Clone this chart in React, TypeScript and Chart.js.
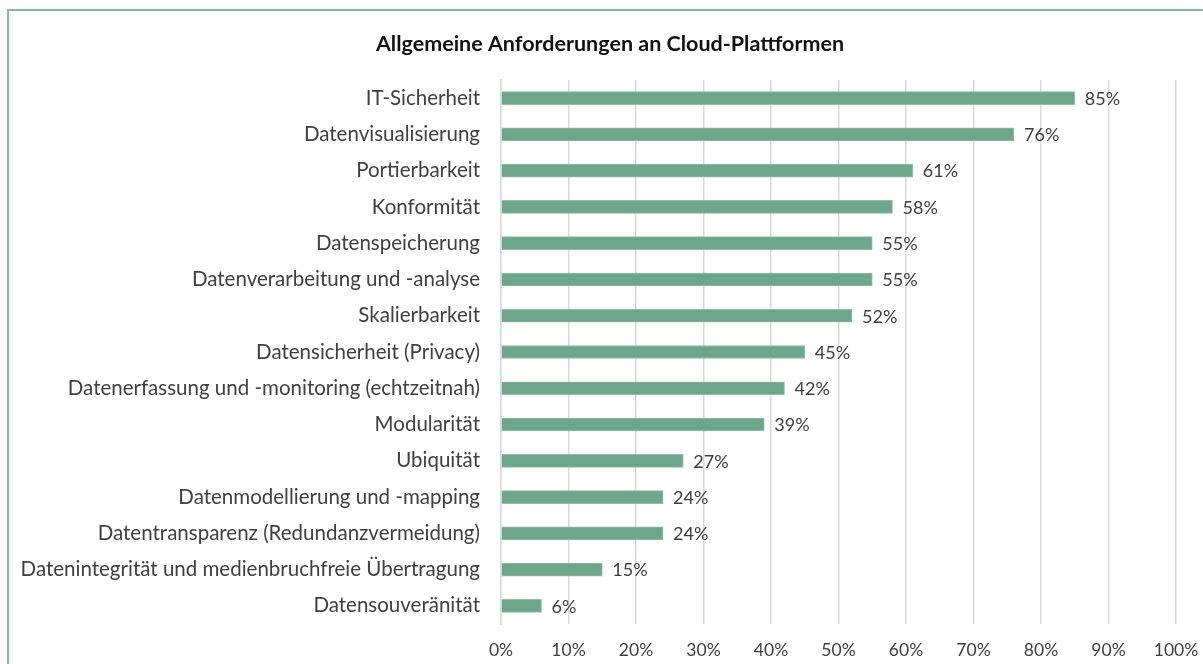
import React, { useEffect, useRef } from "react";
import { Chart, registerables } from "chart.js";

Chart.register(...registerables);

const categories = [
  "IT-Sicherheit",
  "Datenvisualisierung",
  "Portierbarkeit",
  "Konformität",
  "Datenspeicherung",
  "Datenverarbeitung und -analyse",
  "Skalierbarkeit",
  "Datensicherheit (Privacy)",
  "Datenerfassung und -monitoring (echtzeitnah)",
  "Modularität",
  "Ubiquität",
  "Datenmodellierung und -mapping",
  "Datentransparenz (Redundanzvermeidung)",
  "Datenintegrität und medienbruchfreie Übertragung",
  "Datensouveränität",
];

const values = [85, 76, 61, 58, 55, 55, 52, 45, 42, 39, 27, 24, 24, 15, 6];

const xTicks = [0, 10, 20, 30, 40, 50, 60, 70, 80, 90, 100];

const titleText = "Allgemeine Anforderungen an Cloud-Plattformen";

const FONT = "Lato, 'Noto Sans', sans-serif";

export default function App() {
  const ref = useRef<HTMLCanvasElement | null>(null);

  useEffect(() => {
    document.body.style.margin = "0";
    const canvas = ref.current;
    if (!canvas) return;

    const labelPlugin = {
      id: "valueLabels",
      afterDatasetsDraw(chart: any) {
        const ctx = chart.ctx;
        const meta = chart.getDatasetMeta(0);
        ctx.save();
        ctx.font = `18px ${FONT}`;
        ctx.fillStyle = "#404040";
        ctx.textAlign = "left";
        ctx.textBaseline = "middle";
        meta.data.forEach((bar: any, i: number) => {
          ctx.fillText(`${values[i]}%`, bar.x + 10, bar.y + 1);
        });
        ctx.font = `bold 21.5px ${FONT}`;
        ctx.fillStyle = "#111111";
        ctx.textAlign = "center";
        ctx.fillText(titleText, 610, 44);
        ctx.restore();
      },
    };

    const chart = new Chart(canvas, {
      type: "bar",
      data: {
        labels: categories,
        datasets: [
          {
            data: values,
            backgroundColor: "#6EA68B",
            borderColor: "#8fbfa6",
            borderWidth: 1,
            barThickness: 13,
          },
        ],
      },
      options: {
        indexAxis: "y",
        animation: false,
        responsive: false,
        maintainAspectRatio: false,
        layout: { padding: { left: 0, right: 27, top: 80, bottom: 0 } },
        plugins: {
          legend: { display: false },
          tooltip: { enabled: false },
          title: { display: false },
        },
        scales: {
          x: {
            min: 0,
            max: 100,
            afterBuildTicks(scale: any) {
              scale.ticks = xTicks.map((v) => ({ value: v }));
            },
            afterFit(scale: any) {
              scale.height = 40;
              scale.paddingLeft = 0;
              scale.paddingRight = 0;
            },
            grid: {
              color: "#d9d9d9",
              lineWidth: 1.5,
              drawTicks: false,
            },
            border: { display: false },
            ticks: {
              padding: 16,
              color: "#404040",
              font: { family: FONT, size: 17.5 },
              callback: (v: any) => `${v}%`,
            },
          },
          y: {
            afterFit(scale: any) {
              scale.width = 501;
              scale.paddingTop = 0;
              scale.paddingBottom = 0;
            },
            grid: { display: false, drawTicks: false },
            border: { display: true, color: "#d9d9d9", width: 1.5 },
            ticks: {
              padding: 21,
              color: "#404040",
              font: { family: FONT, size: 20.5 },
              autoSkip: false,
            },
          },
        },
      },
      plugins: [labelPlugin],
    });

    return () => chart.destroy();
  }, []);

  return (
    <div style={{ position: "relative", width: 1203, height: 664, overflow: "hidden", background: "#fff" }}>
      <div
        style={{
          position: "absolute",
          left: 7,
          top: 9,
          width: 1300,
          height: 800,
          borderLeft: "2px solid #86bca0",
          borderTop: "2px solid #86bca0",
          pointerEvents: "none",
        }}
      />
      <canvas ref={ref} width={1203} height={664} style={{ position: "absolute", left: 0, top: 0, display: "block" }} />
    </div>
  );
}
